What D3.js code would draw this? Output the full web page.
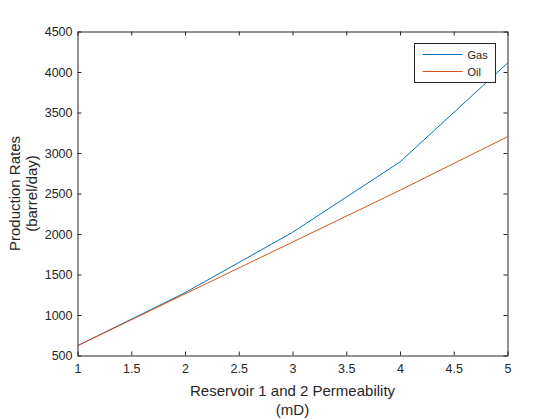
<!DOCTYPE html>
<html>
<head>
<meta charset="utf-8">
<script src="https://cdn.jsdelivr.net/npm/d3@7"></script>
<style>
  body { margin: 0; background: #fff; }
  text { font-family: "Liberation Sans", Arial, sans-serif; fill: #262626; }
</style>
</head>
<body>
<div id="chart"></div>
<script>
// data
var permeability = [1, 2, 3, 4, 5];
var gasRates = [620, 1275, 2020, 2890, 4110];
var oilRates = [620, 1260, 1900, 2540, 3200];
var xTicks = [1, 1.5, 2, 2.5, 3, 3.5, 4, 4.5, 5];
var yTicks = [500, 1000, 1500, 2000, 2500, 3000, 3500, 4000, 4500];
var seriesNames = ["Gas", "Oil"];
var seriesColors = ["#0072BD", "#D95319"];

var width = 560, height = 420;
var margin = {left: 77.5, right: 52.5, top: 31.5, bottom: 64.5};

var svg = d3.select("#chart")
    .append("svg")
    .attr("width", width)
    .attr("height", height);

var x = d3.scaleLinear()
    .domain([1, 5])
    .range([margin.left, width - margin.right]);

var y = d3.scaleLinear()
    .domain([500, 4500])
    .range([height - margin.bottom, margin.top]);

var tickLen = 4;

// bottom axis
svg.append("g")
    .attr("transform", "translate(0," + y(500) + ")")
    .call(d3.axisBottom(x).tickValues(xTicks).tickSizeInner(-tickLen).tickSizeOuter(0)
        .tickPadding(9).tickFormat(d3.format("")))
    .call(function (g) {
        g.select(".domain").attr("stroke", "#262626");
        g.selectAll("line").attr("stroke", "#262626");
        g.selectAll("text").attr("font-size", "12.5px").attr("fill", "#262626");
    });

// top axis (ticks only)
svg.append("g")
    .attr("transform", "translate(0," + y(4500) + ")")
    .call(d3.axisTop(x).tickValues(xTicks).tickSizeInner(-tickLen).tickSizeOuter(0).tickFormat(""))
    .call(function (g) {
        g.select(".domain").attr("stroke", "#262626");
        g.selectAll("line").attr("stroke", "#262626");
    });

// left axis
svg.append("g")
    .attr("transform", "translate(" + x(1) + ",0)")
    .call(d3.axisLeft(y).tickValues(yTicks).tickSizeInner(-tickLen).tickSizeOuter(0)
        .tickPadding(5).tickFormat(d3.format("")))
    .call(function (g) {
        g.select(".domain").attr("stroke", "#262626");
        g.selectAll("line").attr("stroke", "#262626");
        g.selectAll("text").attr("font-size", "12.5px").attr("fill", "#262626");
    });

// right axis (ticks only)
svg.append("g")
    .attr("transform", "translate(" + x(5) + ",0)")
    .call(d3.axisRight(y).tickValues(yTicks).tickSizeInner(-tickLen).tickSizeOuter(0).tickFormat(""))
    .call(function (g) {
        g.select(".domain").attr("stroke", "#262626");
        g.selectAll("line").attr("stroke", "#262626");
    });

// lines
var line = d3.line()
    .x(function (d) { return x(d[0]); })
    .y(function (d) { return y(d[1]); });

[gasRates, oilRates].forEach(function (vals, i) {
    svg.append("path")
        .datum(d3.zip(permeability, vals))
        .attr("fill", "none")
        .attr("stroke", seriesColors[i])
        .attr("stroke-width", 1)
        .attr("d", line);
});

// axis labels
var xl = svg.append("text")
    .attr("text-anchor", "middle")
    .attr("font-size", "15px");
xl.append("tspan").attr("x", (x(1) + x(5)) / 2).attr("y", 396).text("Reservoir 1 and 2 Permeability");
xl.append("tspan").attr("x", (x(1) + x(5)) / 2).attr("y", 415).text("(mD)");

var yl = svg.append("text")
    .attr("text-anchor", "middle")
    .attr("font-size", "15px")
    .attr("transform", "translate(0," + (y(500) + y(4500)) / 2 + ") rotate(-90)");
yl.append("tspan").attr("x", 0).attr("y", 20).text("Production Rates");
yl.append("tspan").attr("x", 0).attr("y", 37).text("(barrel/day)");

// legend
var legend = svg.append("g").attr("transform", "translate(414.5,43.5)");
legend.append("rect")
    .attr("width", 81)
    .attr("height", 39)
    .attr("fill", "#fff")
    .attr("stroke", "#262626");
seriesNames.forEach(function (name, i) {
    var ly = 11 + i * 17;
    legend.append("line")
        .attr("x1", 8).attr("x2", 48)
        .attr("y1", ly).attr("y2", ly)
        .attr("stroke", seriesColors[i]);
    legend.append("text")
        .attr("x", 53).attr("y", ly + 4)
        .attr("font-size", "11px")
        .text(name);
});
</script>
</body>
</html>
